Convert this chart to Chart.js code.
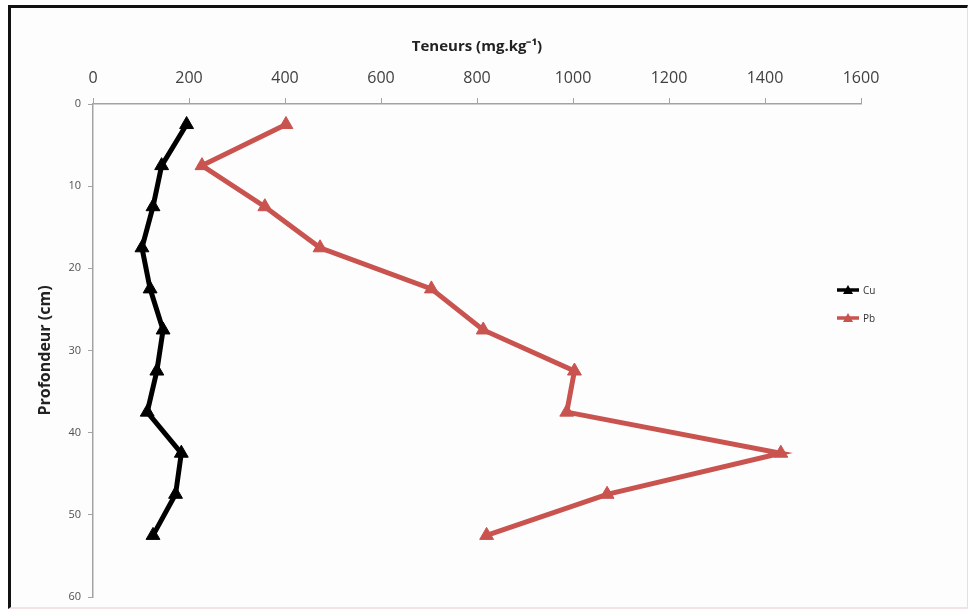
<!DOCTYPE html>
<html>
<head>
<meta charset="utf-8">
<script src="https://cdn.jsdelivr.net/npm/chart.js@4.4.1/dist/chart.umd.min.js"></script>
<style>
  html, body { margin: 0; padding: 0; background: #fff; }
  #wrap { position: relative; width: 970px; height: 613px; overflow: hidden; }
  #frame {
    position: absolute; left: 8px; top: 5px; right: 2px; bottom: 4px;
    border-left: 3px solid #111; border-top: 3px solid #111;
    border-right: 1px solid #e4e0e0; border-bottom: 2px solid #f2e4e4;
    background: #fefdfd;
  }
  #profilChart { position: absolute; left: 0; top: 0; }
  #legend { position: absolute; left: 836px; top: 276px; font-family: "Open Sans", sans-serif; font-size: 10px; color: #333; }
  #legend .item { display: flex; align-items: center; height: 28px; }
  #legend svg { margin-right: 3px; }
</style>
</head>
<body>
<div id="wrap">
  <div id="frame"></div>
  <canvas id="profilChart" width="970" height="613"></canvas>
  <div id="legend"></div>
</div>
<script>
// DONNEES
const profondeurs = [2.5, 7.5, 12.5, 17.5, 22.5, 27.5, 32.5, 37.5, 42.5, 47.5, 52.5];
const cuValues = [195, 143, 125, 102, 119, 146, 133, 113, 184, 172, 125];
const pbValues = [402, 227, 358, 473, 705, 813, 1003, 987, 1433, 1071, 820];
const seriesLabels = ["Cu", "Pb"];
const seriesColors = ["#000000", "#c9534f"];

const xTicks = [0, 200, 400, 600, 800, 1000, 1200, 1400, 1600];
const yTicks = [0, 10, 20, 30, 40, 50, 60];

function toPoints(values) {
  return values.map(function (v, i) {
    return { x: v, y: profondeurs[i] };
  });
}

const axisColor = "#a3a3a3";

// PROFIL Cu / Pb
const profilCtx = document.getElementById("profilChart");

new Chart(profilCtx, {
  type: "line",

  data: {
    datasets: [
      {
        label: seriesLabels[0],
        data: toPoints(cuValues),
        borderColor: seriesColors[0],
        backgroundColor: seriesColors[0],
        borderWidth: 5,
        pointStyle: "triangle",
        pointRadius: 8,
        pointBorderWidth: 1,
        tension: 0,
        clip: false,
      },
      {
        label: seriesLabels[1],
        data: toPoints(pbValues),
        borderColor: seriesColors[1],
        backgroundColor: seriesColors[1],
        borderWidth: 5,
        pointStyle: "triangle",
        pointRadius: 8,
        pointBorderWidth: 1,
        tension: 0,
        clip: false,
      },
    ],
  },

  options: {
    responsive: false,
    animation: false,

    layout: {
      padding: { left: 12, top: 22, right: 109, bottom: 16 },
    },

    plugins: {
      legend: { display: false },
      tooltip: { enabled: false },
    },

    scales: {
      x: {
        type: "linear",
        position: "top",
        min: 0,
        max: 1600,
        afterBuildTicks: function (scale) {
          scale.ticks = xTicks.map(function (v) { return { value: v }; });
        },
        afterFit: function (scale) {
          scale.height = 82;
        },
        ticks: {
          color: "#404040",
          padding: 10,
          font: { family: "Open Sans", size: 16 },
          callback: function (value) {
            return String(value);
          },
        },
        grid: {
          drawOnChartArea: false,
          tickLength: 6,
          color: axisColor,
        },
        border: { color: axisColor, width: 1.5 },
        title: {
          display: true,
          text: "Teneurs (mg.kg\u207B\u00B9)",
          color: "#222",
          font: { family: "Open Sans", size: 15, weight: "bold" },
          padding: { top: 16, bottom: 0 },
        },
      },

      y: {
        type: "linear",
        reverse: true,
        min: 0,
        max: 60,
        afterBuildTicks: function (scale) {
          scale.ticks = yTicks.map(function (v) { return { value: v }; });
        },
        afterFit: function (scale) {
          scale.width = 81;
        },
        ticks: {
          color: "#505050",
          padding: 7,
          font: { family: "Open Sans", size: 11 },
        },
        grid: {
          drawOnChartArea: false,
          tickLength: 5,
          color: axisColor,
        },
        border: { color: axisColor, width: 1.5 },
        title: {
          display: true,
          text: "Profondeur (cm)",
          color: "#222",
          font: { family: "Open Sans", size: 16, weight: "bold" },
          padding: { top: 24, bottom: 0 },
        },
      },
    },
  },
});

// LEGENDE
const legendBox = document.getElementById("legend");
seriesLabels.forEach(function (label, i) {
  const c = seriesColors[i];
  const item = document.createElement("div");
  item.className = "item";
  item.innerHTML =
    '<svg width="24" height="12" viewBox="0 0 24 12">' +
    '<line x1="1" y1="6" x2="23" y2="6" stroke="' + c + '" stroke-width="3.5"/>' +
    '<polygon points="12,1 17,10 7,10" fill="' + c + '"/>' +
    "</svg><span>" + label + "</span>";
  legendBox.appendChild(item);
});
</script>
</body>
</html>
